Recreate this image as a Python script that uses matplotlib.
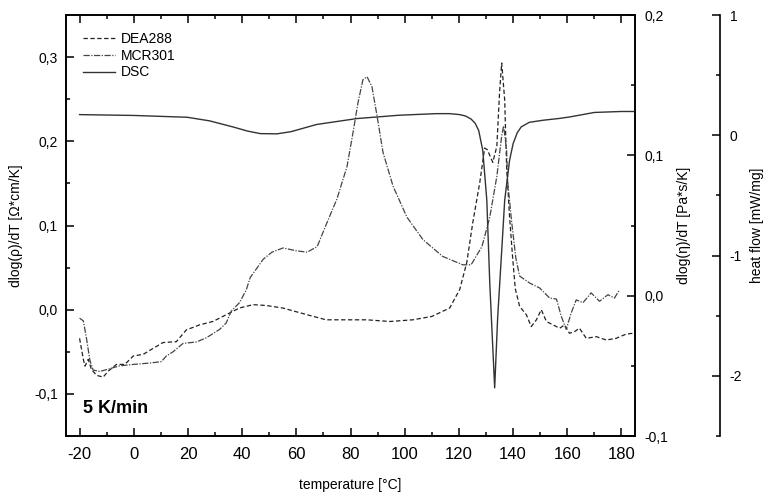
import matplotlib
matplotlib.use("Agg")
import matplotlib.pyplot as plt
from matplotlib.ticker import MultipleLocator, FuncFormatter

plt.rcParams['font.family'] = ['Liberation Sans', 'DejaVu Sans']
plt.rcParams['axes.unicode_minus'] = False

# DEA288 -> dlog(rho)/dT (left axis)
dea_t = [-20, -18.6, -18, -16.8, -15.6, -13.7, -11.3, -9.4, -6.4, -3.3, -0.2, 3.5, 7.1,
         10.8, 15.7, 19.4, 24.3, 29.2, 34.1, 39, 44, 48.9, 55, 64, 71, 80, 86, 94.5,
         103, 110, 116.6, 120.3, 122.9, 125.1, 127.7, 129.5, 130.5, 132.5, 134, 135,
         135.8, 136.9, 137.6, 138.7, 139.8, 140.8, 142.4, 144.9, 146.7, 148.6, 150.4,
         152.3, 154.7, 157.2, 159, 160.8, 162.7, 164.5, 167, 170.7, 174.4, 178, 181.7, 184.2]
dea_v = [-0.034, -0.059, -0.067, -0.059, -0.071, -0.078, -0.080, -0.073, -0.065, -0.065,
         -0.055, -0.053, -0.046, -0.039, -0.038, -0.024, -0.018, -0.014, -0.006, 0.002,
         0.006, 0.005, 0.002, -0.006, -0.012, -0.012, -0.012, -0.014, -0.012, -0.008,
         0.002, 0.024, 0.056, 0.103, 0.151, 0.192, 0.190, 0.175, 0.194, 0.258, 0.293,
         0.249, 0.170, 0.110, 0.063, 0.025, 0.004, -0.006, -0.020, -0.012, 0.000, -0.014,
         -0.018, -0.022, -0.018, -0.028, -0.026, -0.022, -0.034, -0.032, -0.036, -0.034,
         -0.029, -0.028]

# MCR301 -> dlog(eta)/dT (right axis)
mcr_t = [-20, -18.6, -17.4, -16.2, -15, -12.5, -8.8, -5.2, -0.2, 5.9, 10.2, 12, 14.5, 18.2,
         23.1, 26.8, 31.7, 34.1, 36, 39, 41.5, 43, 47.8, 51, 55.1, 60, 64, 67.7, 71.3, 75,
         78.7, 80.9, 82.8, 84.6, 86.1, 87.9, 89.8, 92, 95.7, 100.8, 106.7, 114, 121.4,
         124.5, 128.5, 131.4, 134, 135.8, 136.5, 137.6, 138, 139.5, 141, 142.4, 146.1,
         149.8, 153.5, 156, 157.8, 159.6, 161.5, 163.3, 165.8, 168.8, 171.9, 175, 177.4, 179.3]
mcr_v = [-0.016, -0.018, -0.031, -0.046, -0.053, -0.054, -0.052, -0.050, -0.049, -0.048,
         -0.047, -0.043, -0.040, -0.034, -0.033, -0.030, -0.024, -0.0195, -0.011, -0.005,
         0.004, 0.013, 0.026, 0.031, 0.034, 0.032, 0.031, 0.035, 0.052, 0.069, 0.092, 0.116,
         0.138, 0.154, 0.156, 0.149, 0.128, 0.102, 0.078, 0.056, 0.040, 0.028, 0.022, 0.022,
         0.035, 0.056, 0.085, 0.114, 0.121, 0.104, 0.081, 0.052, 0.027, 0.014, 0.009, 0.0055,
         -0.0017, -0.0024, -0.0148, -0.024, -0.012, -0.003, -0.005, 0.002, -0.004, 0.0007,
         -0.0017, 0.0043]

# DSC -> heat flow (outer right axis)
dsc_t = [-20, 0, 19.7, 28, 36.7, 42, 46.7, 52.8, 58, 67.5, 82.3, 98, 111.7, 116.6, 120.3,
         122.5, 124.5, 126, 127.3, 128.8, 130.3, 131.4, 133.2, 134.3, 135.8, 136.9, 138.7,
         140, 141.5, 143, 146, 151, 157, 161, 170, 180, 184.5]
dsc_v = [0.172, 0.165, 0.150, 0.12, 0.069, 0.035, 0.014, 0.012, 0.030, 0.090, 0.139, 0.167,
         0.180, 0.180, 0.172, 0.160, 0.135, 0.10, 0.04, -0.125, -0.54, -1.233, -2.10, -1.517,
         -0.958, -0.54, -0.208, -0.07, 0.02, 0.07, 0.108, 0.125, 0.14, 0.153, 0.19, 0.198, 0.198]

comma = FuncFormatter(lambda v, p: f"{v:.1f}".replace('.', ','))

fig = plt.figure(figsize=(7.65, 4.94), dpi=100)
ax = fig.add_axes([0.0863, 0.1174, 0.7438, 0.8522])
ax2 = ax.twinx()
ax3 = ax.twinx()
ax3.spines['right'].set_position(('axes', 1.149))
for s in ['left', 'top', 'bottom']:
    ax3.spines[s].set_visible(False)

l1, = ax.plot(dea_t, dea_v, color='#222222', lw=0.9, ls=(0, (3.5, 2)), label='DEA288')
l2, = ax2.plot(mcr_t, mcr_v, color='#444444', lw=0.9, ls=(0, (5, 1.2, 1, 1.2)), label='MCR301')
l3, = ax3.plot(dsc_t, dsc_v, color='#333333', lw=1.0, ls='-', label='DSC')

ax.set_xlim(-25, 185)
ax.set_ylim(-0.15, 0.35)
ax2.set_ylim(-0.1, 0.2)
ax3.set_ylim(-2.5, 1)

ax.xaxis.set_major_locator(MultipleLocator(20))
ax.xaxis.set_minor_locator(MultipleLocator(10))
ax.yaxis.set_major_locator(MultipleLocator(0.1))
ax.yaxis.set_minor_locator(MultipleLocator(0.05))
ax.yaxis.set_major_formatter(comma)
ax2.yaxis.set_major_locator(MultipleLocator(0.1))
ax2.yaxis.set_minor_locator(MultipleLocator(0.05))
ax2.yaxis.set_major_formatter(comma)
ax3.yaxis.set_major_locator(MultipleLocator(1))
ax3.yaxis.set_minor_locator(MultipleLocator(0.5))

ax.tick_params(axis='x', which='both', direction='in', top=True, labelsize=12, pad=8)
ax.tick_params(axis='y', which='both', direction='in', right=False, labelsize=10, pad=6)
ax2.tick_params(axis='y', which='both', direction='in', labelsize=10, pad=7)
ax3.tick_params(axis='y', which='both', direction='in', labelsize=10, pad=7)
for a in (ax, ax2, ax3):
    a.tick_params(which='major', length=6, width=1.1)
    a.tick_params(which='minor', length=3, width=1.1)
    for s in a.spines.values():
        s.set_linewidth(1.2)

ax.set_xlabel('temperature [°C]', fontsize=10)
ax.set_ylabel('dlog(ρ)/dT [Ω*cm/K]', fontsize=10)
ax2.set_ylabel('dlog(η)/dT [Pa*s/K]', fontsize=10)
ax3.set_ylabel('heat flow [mW/mg]', fontsize=10)
ax.xaxis.set_label_coords(0.5, -0.1)
ax.yaxis.set_label_coords(-0.0756, 0.5)
ax2.yaxis.set_label_coords(1.074, 0.5)
ax3.yaxis.set_label_coords(1.202, 0.5)

ax.text(0.03, 0.066, '5 K/min', transform=ax.transAxes, fontsize=13,
        fontweight='bold', va='center', ha='left')

ax3.legend(handles=[l1, l2, l3], loc='upper left', bbox_to_anchor=(0.03, 0.96),
           frameon=False, fontsize=10, handlelength=2.3, handletextpad=0.45,
           labelspacing=0.2, borderpad=0, borderaxespad=0)

fig.savefig('out.png', dpi=100)
